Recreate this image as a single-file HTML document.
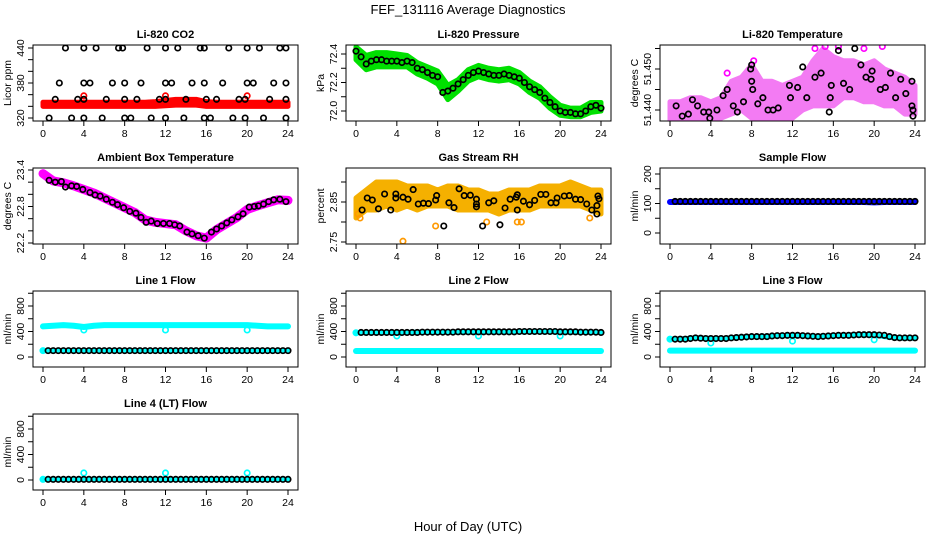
<!DOCTYPE html>
<html><head><meta charset="utf-8"><style>
html,body{margin:0;padding:0;background:#fff;}
svg{display:block;font-family:"Liberation Sans",Arial,sans-serif;}
</style></head><body>
<svg id="chart" width="936" height="540" viewBox="0 0 936 540">
<text x="468" y="14" text-anchor="middle" font-size="13">FEF_131116  Average Diagnostics</text>
<text x="468" y="531" text-anchor="middle" font-size="13">Hour of Day (UTC)</text>
</svg>
<script>
// ---------- data ----------
const HR=[0,1,2,3,4,5,6,7,8,9,10,11,12,13,14,15,16,17,18,19,20,21,22,23,24];
const H2=[0,0.5,1,1.5,2,2.5,3,3.5,4,4.5,5,5.5,6,6.5,7,7.5,8,8.5,9,9.5,10,10.5,11,11.5,12,12.5,13,13.5,14,14.5,15,15.5,16,16.5,17,17.5,18,18.5,19,19.5,20,20.5,21,21.5,22,22.5,23,23.5,24];
const HB=[0.5,1,1.5,2,2.5,3,3.5,4,4.5,5,5.5,6,6.5,7,7.5,8,8.5,9,9.5,10,10.5,11,11.5,12,12.5,13,13.5,14,14.5,15,15.5,16,16.5,17,17.5,18,18.5,19,19.5,20,20.5,21,21.5,22,22.5,23,23.5,24];
const xTicks=[0,4,8,12,16,20,24];

// CO2
const co2Lo=[340,340,340,340,340,340,340,340,340,340,340,340,341,342,342,342,340,340,340,340,340,340,340,340,340];
const co2Hi=[347,347,347,347,347,347,347,347,347,347,347,348,350,352,352,352,348,347,347,347,347,347,347,347,347];
const co2RedX=[4,12,20];
const co2RedY=[358,358,358];
const co2BlkX=[2.2,4,5.2,7.4,7.8,10.2,12,13.2,15.4,15.8,18.2,20,21.2,23.2,23.8, 1.6,4,4.6,6.8,8,9.6,12,12.6,14.6,15.8,17.6,20,20.6,22.6,23.8, 1.2,3.4,4,6.2,8,9.2,11.4,12,14,16,17,19.2,19.8,22.2,23.8, 0.6,2.8,4,5.8,8,8.6,10.6,12,13.8,15.8,16.4,18.6,19.8,21.6,23.8];
const co2BlkY=[440,440,440,440,440,440,440,440,440,440,440,440,440,440,440, 380,380,380,380,380,380,380,380,380,380,380,380,380,380,380, 352,352,352,352,352,352,352,352,352,352,352,352,352,352,352, 320,320,320,320,320,320,320,320,320,320,320,320,320,320,320];

// Pressure
const prLo=[72.36,72.29,72.31,72.31,72.31,72.31,72.26,72.23,72.19,72.08,72.14,72.21,72.24,72.22,72.21,72.22,72.19,72.13,72.09,72.02,71.97,71.96,71.96,71.99,72.00];
const prHi=[72.45,72.39,72.41,72.41,72.40,72.39,72.34,72.31,72.28,72.18,72.22,72.29,72.32,72.30,72.29,72.30,72.27,72.21,72.17,72.10,72.04,72.02,72.02,72.06,72.06];
const prBlk=[72.42,72.38,72.33,72.35,72.36,72.36,72.35,72.35,72.35,72.34,72.35,72.34,72.30,72.29,72.27,72.25,72.24,72.13,72.14,72.16,72.19,72.22,72.25,72.27,72.28,72.27,72.26,72.25,72.25,72.26,72.25,72.24,72.23,72.20,72.17,72.15,72.13,72.09,72.06,72.03,72.00,71.99,71.99,71.98,71.98,72.00,72.03,72.04,72.02];

// Li-820 temperature
const tLo=[51.437,51.437,51.437,51.437,51.437,51.438,51.439,51.440,51.438,51.437,51.437,51.437,51.438,51.440,51.441,51.441,51.441,51.443,51.443,51.442,51.442,51.441,51.441,51.439,51.439];
const tHi=[51.442,51.442,51.443,51.443,51.442,51.443,51.447,51.448,51.451,51.447,51.447,51.446,51.447,51.448,51.452,51.455,51.453,51.452,51.452,51.451,51.452,51.450,51.449,51.448,51.446];
const tOutX=[7.8,5.6,16.5,20.8,14.2,15.2,19,8.2,11.9];
const tOutY=[51.457,51.449,51.4555,51.4555,51.455,51.4555,51.455,51.452,51.436];
const tBlkX=[0.6,1.2,1.8,2.2,2.7,3.3,3.8,3.9,4.6,5.2,5.6,6.2,6.6,7.2,7.9,8,8,8.1,8.6,9.1,9.6,10.1,10.6,11.1,11.7,11.8,12.5,13,13.4,14.2,14.8,15.6,15.7,15.8,16.5,17,17.6,18.1,18.7,19.2,19.7,19.8,20.6,21.1,21.6,22.1,22.6,23.1,23.7,23.7,23.8,23.8];
const tBlkY=[51.441,51.4385,51.439,51.4425,51.441,51.4395,51.4395,51.438,51.440,51.4435,51.445,51.441,51.4395,51.442,51.450,51.447,51.451,51.445,51.4415,51.443,51.440,51.440,51.4405,51.4365,51.446,51.443,51.4455,51.4505,51.443,51.448,51.449,51.4395,51.443,51.446,51.4545,51.4465,51.445,51.455,51.451,51.448,51.4475,51.4495,51.445,51.4455,51.449,51.443,51.4475,51.444,51.447,51.441,51.440,51.4385];

// Ambient
const ambMag=[23.34,23.22,23.19,23.14,23.08,23.02,22.94,22.86,22.78,22.70,22.58,22.54,22.52,22.50,22.40,22.32,22.28,22.42,22.52,22.62,22.75,22.81,22.86,22.91,22.90];
const ambX=[0.6,1.2,1.8,2.2,2.8,3.3,3.9,4.6,5.1,5.6,6.2,6.8,7.3,7.9,8.5,9.1,9.6,10.1,10.6,11.2,11.8,12.4,12.9,13.4,14.1,14.6,15.2,15.8,16.5,17,17.5,18,18.5,19.1,19.6,20.2,20.7,21.1,21.6,22.1,22.6,23.2,23.8];
const ambY=[23.23,23.20,23.21,23.12,23.14,23.13,23.08,23.03,22.99,22.97,22.92,22.87,22.83,22.78,22.72,22.69,22.62,22.54,22.56,22.52,22.52,22.52,22.50,22.48,22.38,22.35,22.32,22.28,22.38,22.43,22.48,22.53,22.58,22.63,22.68,22.79,22.80,22.81,22.84,22.88,22.91,22.92,22.88];

// Gas stream RH
const rhLo=[2.81,2.83,2.83,2.84,2.83,2.84,2.83,2.84,2.84,2.84,2.83,2.83,2.83,2.83,2.82,2.83,2.83,2.83,2.84,2.84,2.84,2.84,2.84,2.83,2.82];
const rhHi=[2.86,2.88,2.90,2.90,2.90,2.89,2.89,2.89,2.88,2.89,2.89,2.88,2.88,2.87,2.87,2.88,2.88,2.88,2.89,2.89,2.89,2.90,2.89,2.88,2.88];
const rhOutX=[4.6,7.8,0.2,0.4,15.8,16.2,12.8,22.9];
const rhOutY=[2.752,2.79,2.82,2.81,2.80,2.80,2.80,2.81];
const rhBlkX=[0.6,1.1,1.6,2.2,2.8,3.4,3.9,3.9,4.6,5.1,5.6,6.1,6.6,7.1,7.8,7.9,8.6,9.1,9.6,10.1,10.6,11.2,11.8,11.8,11.8,12.4,13,13.5,14.1,14.6,15.1,15.7,15.8,15.8,16.4,17,17.5,18.1,18.6,19.1,19.6,19.7,20.4,20.9,21.5,22,22.6,23.1,23.6,23.7,23.8,23.6];
const rhBlkY=[2.83,2.86,2.855,2.833,2.87,2.83,2.86,2.87,2.862,2.857,2.881,2.845,2.847,2.846,2.855,2.866,2.79,2.848,2.836,2.883,2.866,2.867,2.845,2.838,2.857,2.79,2.848,2.853,2.793,2.835,2.857,2.862,2.868,2.83,2.852,2.843,2.854,2.869,2.869,2.848,2.848,2.86,2.865,2.866,2.857,2.856,2.845,2.83,2.841,2.865,2.858,2.82];

// Sample flow
const sfBlue=[105,105,105,105,105,105,105,105,105,105,105,105,105,105,105,105,105,105,105,105,104,105,105,105,105];
const sfBlk=[107,107,107,107,107,107,107,107,107,107,107,107,107,107,107,107,107,107,107,107,107,107,107,107,107,107,107,107,107,107,107,107,107,107,107,107,107,107,107,107,107,107,107,107,107,107,107,107];

// Line 1
const l1Cyan=[480,490,500,490,470,490,500,500,500,500,500,500,500,500,500,500,500,500,500,500,500,490,480,480,480];
const l1CyanLow=[100,100,100,100,100,100,100,100,100,100,100,100,100,100,100,100,100,100,100,100,100,100,100,100,100];
const l1OutX=[0,4,12,20];
const l1OutY=[100,424,424,424];
const l1Blk=[100,100,100,100,100,100,100,100,100,100,100,100,100,100,100,100,100,100,100,100,100,100,100,100,100,100,100,100,100,100,100,100,100,100,100,100,100,100,100,100,100,100,100,100,100,100,100,100];

// Line 2
const l2Cyan=[95,95,95,95,95,95,95,95,95,95,95,95,95,95,95,95,95,95,95,95,95,95,95,95,95];
const l2CyanHigh=[380,385,385,385,385,385,390,390,390,390,390,390,390,395,395,395,395,395,395,395,390,390,390,390,385];
const l2OutX=[0,4,12,20];
const l2OutY=[380,330,330,330];
const l2Blk=[385,385,385,385,385,385,385,385,385,385,385,385,390,390,390,390,390,390,390,395,395,395,395,395,395,395,395,395,395,395,395,400,400,400,400,400,400,400,400,395,395,395,395,390,390,390,390,385];

// Line 3
const l3Cyan=[100,100,100,100,100,100,100,100,100,100,100,100,100,100,100,100,100,100,100,100,100,100,100,100,100];
const l3CyanHigh=[280,285,295,300,290,290,300,315,320,325,330,335,340,335,325,330,335,340,345,350,345,320,300,295,295];
const l3OutX=[0,4,12,20];
const l3OutY=[280,220,250,270];
const l3Blk=[280,280,280,290,300,295,290,290,290,290,290,300,305,310,315,320,320,320,320,330,335,335,340,340,340,335,330,325,320,325,330,335,340,340,340,345,350,350,350,350,345,340,320,305,300,300,300,300];

// Line 4
const l4Cyan=[10,10,10,10,10,10,10,10,10,10,10,10,10,10,10,10,10,10,10,10,10,10,10,10,10];
const l4OutX=[0,4,12,20];
const l4OutY=[10,110,110,110];
const l4Blk=[10,10,10,10,10,10,10,10,10,10,10,10,10,10,10,10,10,10,10,10,10,10,10,10,10,10,10,10,10,10,10,10,10,10,10,10,10,10,10,10,10,10,10,10,10,10,10,10];

// ---------- drawing ----------
const NS='http://www.w3.org/2000/svg';
const svg=document.getElementById('chart');
const colLeft=[33,346,660], rowTop=[45,168,291,414], PW=265, PH=76;
function mk(tag,attrs,parent){const e=document.createElementNS(NS,tag);for(const k in attrs)e.setAttribute(k,attrs[k]);(parent||svg).appendChild(e);return e;}

function panel(id,col,row,title,ylab,ticks,labels,v1,p1,v2,p2){
  const P={id,col,row,v1,p1,v2,p2};
  P.L=colLeft[col];P.T=rowTop[row];
  P.sx=h=>P.L+10+h*245/24;
  P.sy=v=>P.T+p1+(v-v1)*(p2-p1)/(v2-v1);
  const g=mk('g',{});
  
  
  const cp=mk('clipPath',{id:'cp-'+id},g);
  mk('rect',{x:P.L,y:P.T,width:PW,height:PH},cp);
  P.g=mk('g',{'clip-path':'url(#cp-'+id+')'},g);
  
  
  const box=mk('rect',{x:P.L,y:P.T,width:PW,height:PH,fill:'none',stroke:'#000','stroke-width':1},g);
  
  
  const t=mk('text',{x:P.L+PW/2,y:P.T-7,'text-anchor':'middle','font-size':11,'font-weight':'bold'},g);
  t.textContent=title;
  
  
  const xa=mk('g',{},g);
  
  
  const yb=P.T+PH;
  mk('line',{x1:P.sx(0),x2:P.sx(24),y1:yb,y2:yb,stroke:'#000'},xa);
  xTicks.forEach(h=>{
    mk('line',{x1:P.sx(h),x2:P.sx(h),y1:yb,y2:yb+5,stroke:'#000'},xa);
    const tx=mk('text',{x:P.sx(h),y:yb+16,'text-anchor':'middle','font-size':10.5},xa);
    tx.textContent=h;
  });
  const ya=mk('g',{},g);
  
  
  mk('line',{x1:P.L,x2:P.L,y1:P.sy(ticks[0]),y2:P.sy(ticks[ticks.length-1]),stroke:'#000'},ya);
  ticks.forEach(v=>mk('line',{x1:P.L-5,x2:P.L,y1:P.sy(v),y2:P.sy(v),stroke:'#000'},ya));
  labels.forEach(v=>{
    const y=P.sy(+v);const lx=P.L-9;
    const tx=mk('text',{x:lx,y:y,'text-anchor':'middle','font-size':10.5,transform:'rotate(-90 '+lx+' '+y+')'},ya);
    tx.textContent=v;
  });
  const yl=mk('text',{x:P.L-22,y:P.T+PH/2,'text-anchor':'middle','font-size':10.5,transform:'rotate(-90 '+(P.L-22)+' '+(P.T+PH/2)+')'},g);
  yl.textContent=ylab;
  
  
  return P;
}
function circles(P,xs,ys,color,name){
  const g=mk('g',{fill:'none',stroke:color,'stroke-width':1.7},P.g);
  
  
  xs.forEach((x,i)=>{
    const c=mk('circle',{cx:P.sx(x),cy:P.sy(ys[i]),r:2.7},g);
    
  });
}
function band(P,xs,lo,hi,color,name,op){
  let d='M'+xs.map((x,i)=>P.sx(x)+','+P.sy(hi[i])).join('L');
  d+='L'+xs.map((x,i)=>[x,i]).reverse().map(([x,i])=>P.sx(x)+','+P.sy(lo[i])).join('L')+'Z';
  const p=mk('path',{d:d,fill:color,stroke:color,'stroke-width':5,'stroke-linejoin':'round',opacity:op||1},P.g);
  
  
}
function thick(P,xs,ys,color,w,name){
  const p=mk('polyline',{points:xs.map((x,i)=>P.sx(x)+','+P.sy(ys[i])).join(' '),fill:'none',stroke:color,'stroke-width':w,'stroke-linejoin':'round','stroke-linecap':'round'},P.g);
  
  
}

const pCO2=panel('co2',0,0,'Li-820 CO2','Licor ppm',[320,340,360,380,400,420,440],['320','380','440'],440,3,320,73);
band(pCO2,HR,co2Lo,co2Hi,'#ff0000','co2-red-band');
circles(pCO2,co2RedX,co2RedY,'#ff0000','co2-red-outliers');
circles(pCO2,co2BlkX,co2BlkY,'#000','co2-hourly-points');

const pPr=panel('pressure',1,0,'Li-820 Pressure','kPa',[72.0,72.1,72.2,72.3,72.4],['72.0','72.2','72.4'],72.4,9,72.0,66);
band(pPr,HR,prLo,prHi,'#00e000','pressure-green-band');
circles(pPr,H2,prBlk,'#000','pressure-hourly-points');

const pT=panel('li820-temp',2,0,'Li-820 Temperature','degrees C',[51.440,51.445,51.450,51.455],['51.440','51.450'],51.440,65,51.450,24);
band(pT,HR,tLo,tHi,'#f050f0','temp-magenta-band',0.75);
circles(pT,tOutX,tOutY,'#ff00ff','temp-magenta-outliers');
circles(pT,tBlkX,tBlkY,'#000','temp-hourly-points');

const pA=panel('ambient',0,1,'Ambient Box Temperature','degrees C',[22.2,22.4,22.6,22.8,23.0,23.2,23.4],['22.2','22.8','23.4'],23.4,2,22.2,75);
thick(pA,HR,ambMag,'#ff00ff',9,'ambient-magenta-band');
circles(pA,ambX,ambY,'#000','ambient-hourly-points');

const pRH=panel('rh',1,1,'Gas Stream RH','percent',[2.75,2.80,2.85,2.90],['2.75','2.85'],2.75,74,2.85,34);
band(pRH,HR,rhLo,rhHi,'#f5b000','rh-orange-band');
circles(pRH,rhOutX,rhOutY,'#ff9900','rh-orange-outliers');
circles(pRH,rhBlkX,rhBlkY,'#000','rh-hourly-points');

const pS=panel('sample-flow',2,1,'Sample Flow','ml/min',[0,50,100,150,200],['0','100','200'],0,65,200,6);
thick(pS,HR,sfBlue,'#0000ff',6,'sample-flow-blue-band');
circles(pS,HB,sfBlk,'#000','sample-flow-hourly-points');

const FT=[0,200,400,600,800,1000], FL=['0','400','800'];
const p1=panel('line1',0,2,'Line 1 Flow','ml/min',FT,FL,0,66,800,15);
thick(p1,HR,l1Cyan,'#00ffff',6,'line1-cyan-band');
thick(p1,HR,l1CyanLow,'#00ffff',5,'line1-cyan-low-band');
circles(p1,l1OutX,l1OutY,'#00ffff','line1-cyan-outliers');
circles(p1,HB,l1Blk,'#000','line1-hourly-points');

const p2=panel('line2',1,2,'Line 2 Flow','ml/min',FT,FL,0,66,800,15);
thick(p2,HR,l2Cyan,'#00ffff',6,'line2-cyan-band');
thick(p2,HR,l2CyanHigh,'#00ffff',5,'line2-cyan-high-band');
circles(p2,l2OutX,l2OutY,'#00ffff','line2-cyan-outliers');
circles(p2,HB,l2Blk,'#000','line2-hourly-points');

const p3=panel('line3',2,2,'Line 3 Flow','ml/min',FT,FL,0,66,800,15);
thick(p3,HR,l3Cyan,'#00ffff',6,'line3-cyan-band');
thick(p3,HR,l3CyanHigh,'#00ffff',5,'line3-cyan-high-band');
circles(p3,l3OutX,l3OutY,'#00ffff','line3-cyan-outliers');
circles(p3,HB,l3Blk,'#000','line3-hourly-points');

const p4=panel('line4',0,3,'Line 4 (LT) Flow','ml/min',FT,FL,0,66,800,15);
thick(p4,HR,l4Cyan,'#00ffff',5,'line4-cyan-band');
circles(p4,l4OutX,l4OutY,'#00ffff','line4-cyan-outliers');
circles(p4,HB,l4Blk,'#000','line4-hourly-points');
</script>
</body></html>
